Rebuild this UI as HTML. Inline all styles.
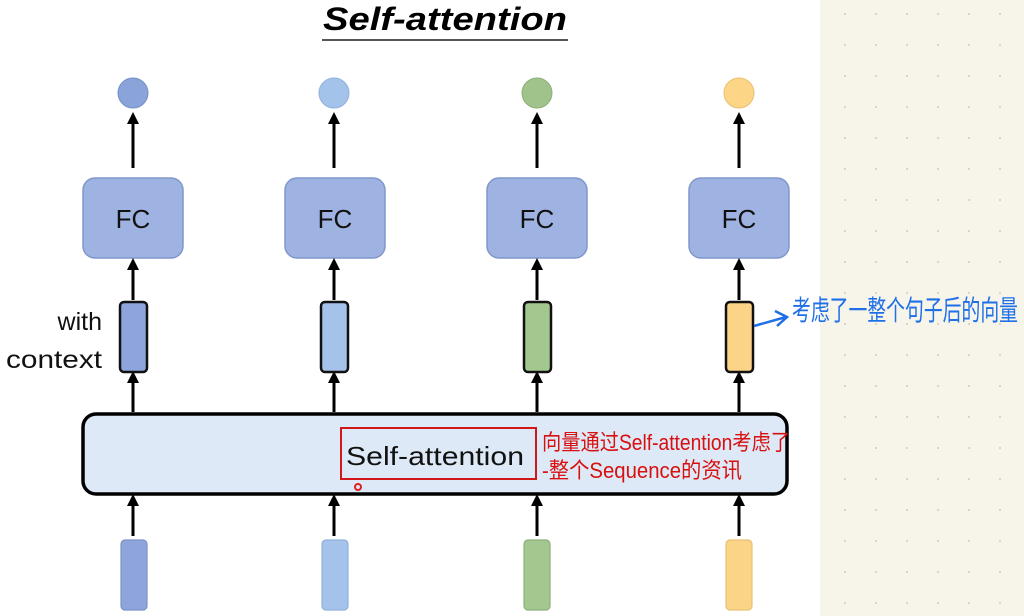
<!DOCTYPE html>
<html><head><meta charset="utf-8"><style>
body{margin:0;width:1024px;height:616px;overflow:hidden;background:#fff;}
svg{display:block}
</style></head><body>
<svg width="1024" height="616" xmlns="http://www.w3.org/2000/svg">
<defs>
<pattern id="dots" width="31" height="31" patternUnits="userSpaceOnUse" x="6" y="12"><circle cx="2" cy="2" r="1" fill="#cfcbbd"/></pattern>
<marker id="ah" markerWidth="12" markerHeight="12" refX="6" refY="6" orient="auto" markerUnits="userSpaceOnUse"><path d="M0,0 L12,6 L0,12 z" fill="#000"/></marker>
</defs>
<rect x="820" y="0" width="204" height="616" fill="#f7f4ea"/>
<rect x="820" y="0" width="204" height="616" fill="url(#dots)"/>
<text x="445" y="30" font-family="Liberation Sans" font-weight="bold" font-style="italic" font-size="32" text-anchor="middle" textLength="244" lengthAdjust="spacingAndGlyphs">Self-attention</text>
<line x1="322" y1="40" x2="568" y2="40" stroke="#555" stroke-width="2"/>

<g font-family="Liberation Sans" font-size="26" text-anchor="middle" fill="#111">
<circle cx="133" cy="93" r="15" fill="#8aa3d8" stroke="#7590c8"/>
<circle cx="334" cy="93" r="15" fill="#a3c3ea" stroke="#8fb0dc"/>
<circle cx="537" cy="93" r="15" fill="#9fc38b" stroke="#8cb078"/>
<circle cx="739" cy="93" r="15" fill="#fcd587" stroke="#e9c070"/>
<g fill="#9fb3e3" stroke="#8197cc" stroke-width="1.5">
<rect x="83" y="178" width="100" height="80" rx="12"/>
<rect x="285" y="178" width="100" height="80" rx="12"/>
<rect x="487" y="178" width="100" height="80" rx="12"/>
<rect x="689" y="178" width="100" height="80" rx="12"/>
</g>
<text x="133" y="228">FC</text><text x="335" y="228">FC</text><text x="537" y="228">FC</text><text x="739" y="228">FC</text>
</g>
<g stroke="#000" stroke-width="3" marker-end="url(#ah)">
<line x1="133" y1="168" x2="133" y2="118"/><line x1="334" y1="168" x2="334" y2="118"/><line x1="537" y1="168" x2="537" y2="118"/><line x1="739" y1="168" x2="739" y2="118"/>
<line x1="133" y1="300" x2="133" y2="264"/><line x1="334" y1="300" x2="334" y2="264"/><line x1="537" y1="300" x2="537" y2="264"/><line x1="739" y1="300" x2="739" y2="264"/>
<line x1="133" y1="412" x2="133" y2="377"/><line x1="334" y1="412" x2="334" y2="377"/><line x1="537" y1="412" x2="537" y2="377"/><line x1="739" y1="412" x2="739" y2="377"/>
<line x1="133" y1="536" x2="133" y2="500"/><line x1="334" y1="536" x2="334" y2="500"/><line x1="537" y1="536" x2="537" y2="500"/><line x1="739" y1="536" x2="739" y2="500"/>
</g>
<g stroke="#111" stroke-width="2.5">
<rect x="120" y="302" width="27" height="70" rx="4" fill="#8ea5dc"/>
<rect x="321" y="302" width="27" height="70" rx="4" fill="#a5c3ea"/>
<rect x="524" y="302" width="27" height="70" rx="4" fill="#a3c88f"/>
<rect x="726" y="302" width="27" height="70" rx="4" fill="#fcd488"/>
</g>
<g stroke-width="1.2">
<rect x="121" y="540" width="26" height="70" rx="4" fill="#8ea5dc" stroke="#7a92c8"/>
<rect x="322" y="540" width="26" height="70" rx="4" fill="#a5c3ea" stroke="#8fb0dc"/>
<rect x="524" y="540" width="26" height="70" rx="4" fill="#a3c88f" stroke="#8cb078"/>
<rect x="726" y="540" width="26" height="70" rx="4" fill="#fcd488" stroke="#e9c070"/>
</g>
<text font-family="Liberation Sans" font-size="25" fill="#111" text-anchor="end"><tspan x="102" y="330">with</tspan><tspan x="102" y="368" textLength="96" lengthAdjust="spacingAndGlyphs">context</tspan></text>
<rect x="83" y="414" width="704" height="80" rx="13" fill="#dde9f6" stroke="#000" stroke-width="3.5"/>
<rect x="341" y="428" width="195" height="51" fill="none" stroke="#d01818" stroke-width="2"/>
<text x="435" y="465" font-family="Liberation Sans" font-size="26" fill="#111" text-anchor="middle" textLength="178" lengthAdjust="spacingAndGlyphs">Self-attention</text>
<circle cx="358" cy="487" r="3" fill="none" stroke="#e02020" stroke-width="2"/>
<g font-family="Liberation Sans, Noto Sans CJK SC, sans-serif" fill="#d81010" font-size="22">
<text x="542" y="450" textLength="248" lengthAdjust="spacingAndGlyphs">向量通过Self-attention考虑了</text>
<text x="542" y="478" textLength="200" lengthAdjust="spacingAndGlyphs">-整个Sequence的资讯</text>
</g>
<path d="M754,326 L786,317 M775,311 L787,317 L777,326" stroke="#1e6fe8" stroke-width="2.5" fill="none"/>
<text x="792" y="320" font-family="Noto Sans CJK SC, sans-serif" font-size="28" fill="#1e6fe8" textLength="226" lengthAdjust="spacingAndGlyphs">考虑了一整个句子后的向量</text>
</svg>
</body></html>
